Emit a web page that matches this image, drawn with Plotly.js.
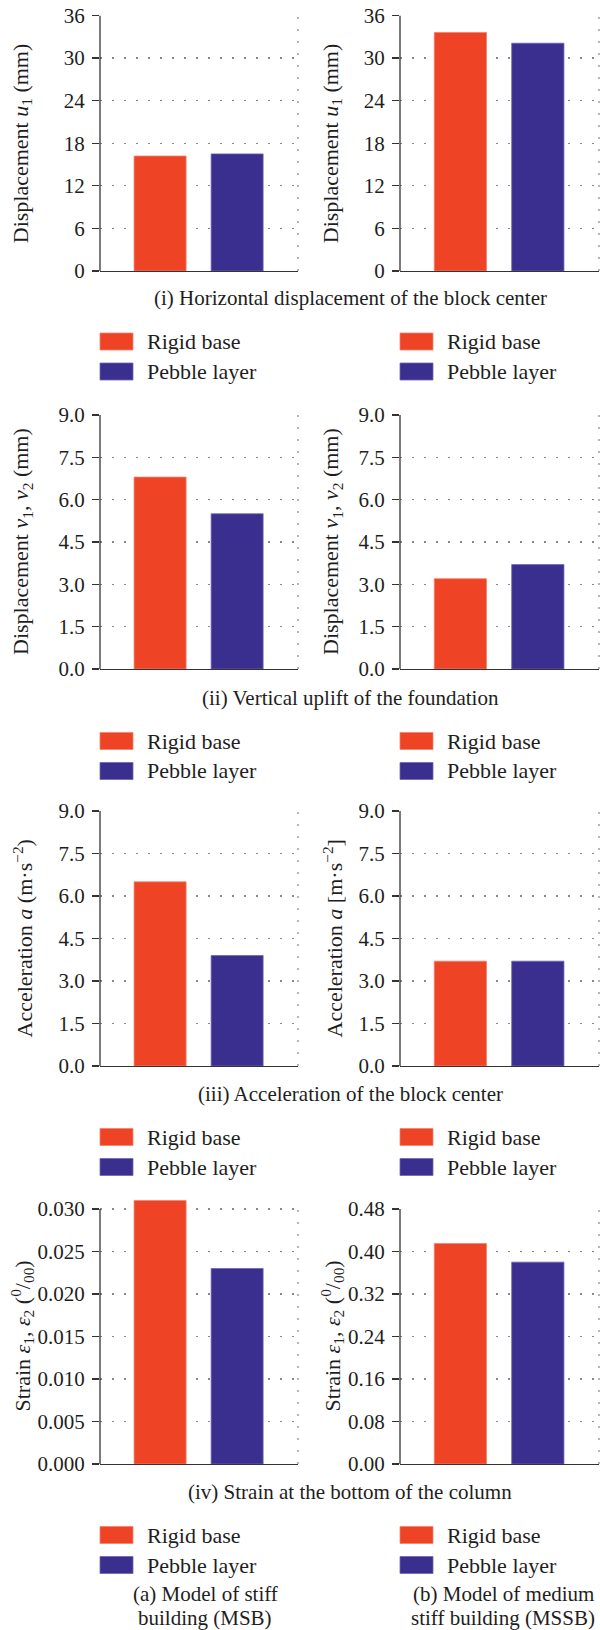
<!DOCTYPE html>
<html><head><meta charset="utf-8">
<script src="https://cdn.plot.ly/plotly-3.0.1.min.js"></script>
<style>html,body{margin:0;padding:0;background:#fff}</style>
</head><body><div id="chart" style="width:600px;height:1630px"></div>
<script>
// ---- data ----
const series = ['Rigid base', 'Pebble layer'];
const msbDisplacement = [16.2, 16.5];
const mssbDisplacement = [33.6, 32.1];
const msbUplift = [6.8, 5.5];
const mssbUplift = [3.2, 3.7];
const msbAcceleration = [6.5, 3.9];
const mssbAcceleration = [3.7, 3.7];
const msbStrain = [0.031, 0.023];
const mssbStrain = [0.415, 0.38];
const panelValues = [msbDisplacement, mssbDisplacement, msbUplift, mssbUplift,
                     msbAcceleration, mssbAcceleration, msbStrain, mssbStrain];
const rowTitles = ['(i) Horizontal displacement of the block center',
                   '(ii) Vertical uplift of the foundation',
                   '(iii) Acceleration of the block center',
                   '(iv) Strain at the bottom of the column'];
const yTitles = ['Displacement <i>u</i><sub>1</sub> (mm)', 'Displacement <i>u</i><sub>1</sub> (mm)',
                 'Displacement <i>v</i><sub>1</sub>, <i>v</i><sub>2</sub> (mm)', 'Displacement <i>v</i><sub>1</sub>, <i>v</i><sub>2</sub> (mm)',
                 'Acceleration <i>a</i> (m·s<sup>−2</sup>)', 'Acceleration <i>a</i> [m·s<sup>−2</sup>]',
                 'Strain <i>ε</i><sub>1</sub>, <i>ε</i><sub>2</sub> (<sup>0</sup>/<sub>00</sub>)', 'Strain <i>ε</i><sub>1</sub>, <i>ε</i><sub>2</sub> (<sup>0</sup>/<sub>00</sub>)'];
const yMax = [36, 36, 9, 9, 9, 9, 0.030, 0.48];
const yStep = [6, 6, 1.5, 1.5, 1.5, 1.5, 0.005, 0.08];
const yFormat = ['d', 'd', '.1f', '.1f', '.1f', '.1f', '.3f', '.2f'];
const modelCaptions = [['(a) Model of stiff', 'building (MSB)'], ['(b) Model of medium', 'stiff building (MSSB)']];

// ---- style / layout ----
const W = 600, H = 1630;
const colors = ['#EE4325', '#3A2F8E'];
const edges = ['#F4826C', '#6E66B4'];
const FONT = 'Liberation Serif, Times New Roman, serif';
const FS = 21;
const TXT = '#1e1e1e';
const AX = '#333333';
const GRID = '#888888';
const cols = [[100, 298], [400, 599]];
const rows = [[15.5, 271], [415, 669], [811, 1066], [1209, 1464]];
const yTitleX = [22, 332];
const captionX = [205, 503];
const px = v => v / W, py = v => 1 - v / H;

const data = [];
const layout = {
  width: W, height: H, margin: {l: 0, r: 0, t: 0, b: 0},
  paper_bgcolor: '#fff', plot_bgcolor: 'rgba(0,0,0,0)',
  showlegend: false, bargap: 0,
  font: {family: FONT, size: FS, color: TXT},
  shapes: [], annotations: []
};

for (let i = 0; i < 8; i++) {
  const r = Math.floor(i / 2), c = i % 2, n = i + 1;
  const xs = n === 1 ? '' : String(n);
  const vals = panelValues[i];
  // let a bar that exceeds the top tick show above it (as in the reference)
  const viewTop = Math.max(yMax[i], Math.max(...vals) * 1.002);
  const bottom = rows[r][1];
  const topPx = bottom - (rows[r][1] - rows[r][0]) * viewTop / yMax[i];
  data.push({
    type: 'bar', x: series, y: vals,
    xaxis: 'x' + xs, yaxis: 'y' + xs,
    width: 0.675,
    marker: {color: colors, line: {color: edges, width: 0.8}},
    hoverinfo: 'x+y'
  });
  layout['xaxis' + xs] = {
    domain: [px(cols[c][0]), px(cols[c][1])], anchor: 'y' + xs,
    type: 'category', range: [-0.78, 1.79],
    showticklabels: false, ticks: '', showgrid: false, zeroline: false,
    showline: true, linecolor: AX, linewidth: 1.3, fixedrange: true
  };
  layout['yaxis' + xs] = {
    domain: [py(bottom), py(topPx)], anchor: 'x' + xs,
    range: [0, viewTop], tick0: 0, dtick: yStep[i], tickformat: yFormat[i],
    ticks: 'outside', ticklen: 7, tickwidth: 1.3, tickcolor: AX,
    showline: false, zeroline: false,
    showgrid: true, gridcolor: GRID, gridwidth: 1.2, griddash: '2px,10px',
    tickfont: {family: FONT, size: FS, color: TXT}, ticklabelstandoff: 3,
    fixedrange: true
  };
  // inner half of the crossing tick marks
  layout['yaxis' + (n + 8)] = {
    overlaying: 'y' + xs, anchor: 'x' + xs, side: 'left',
    range: [0, viewTop], tick0: 0, dtick: yStep[i],
    ticks: 'inside', ticklen: 8, tickwidth: 1.3, tickcolor: AX,
    showticklabels: false, showgrid: false, showline: false, zeroline: false,
    fixedrange: true
  };
  // y axis line, from 0 to the top tick
  layout.shapes.push({
    type: 'line', xref: 'x' + xs + ' domain', yref: 'y' + xs,
    x0: 0, x1: 0, y0: 0, y1: yMax[i], layer: 'above',
    line: {color: AX, width: 1.3}
  });
  // dotted right frame
  layout.shapes.push({
    type: 'line', xref: 'x' + xs + ' domain', yref: 'y' + xs,
    x0: 1, x1: 1, y0: 0, y1: yMax[i], layer: 'below',
    line: {color: GRID, width: 1.2, dash: '2px,10px'}
  });
  // y axis title
  layout.annotations.push({
    xref: 'paper', yref: 'paper', x: px(yTitleX[c]), y: py((rows[r][0] + rows[r][1]) / 2),
    text: yTitles[i], textangle: -90, showarrow: false,
    xanchor: 'center', yanchor: 'middle', font: {family: FONT, size: 22, color: TXT}
  });
  // legend
  series.forEach((s, k) => {
    const yc = rows[r][0] + 326 + 30 * k;
    layout.shapes.push({
      type: 'rect', xref: 'paper', yref: 'paper',
      x0: px(cols[c][0]), x1: px(cols[c][0] + 33), y0: py(yc - 8.5), y1: py(yc + 8.5),
      fillcolor: colors[k], line: {color: edges[k], width: 0.8}
    });
    layout.annotations.push({
      xref: 'paper', yref: 'paper', x: px(cols[c][0] + 45), y: py(yc),
      text: s, showarrow: false, xanchor: 'left', yanchor: 'middle',
      font: {family: FONT, size: 22, color: TXT}
    });
  });
}
rowTitles.forEach((t, r) => {
  layout.annotations.push({
    xref: 'paper', yref: 'paper', x: px(350), y: py(rows[r][0] + 283),
    text: t, showarrow: false, xanchor: 'center', yanchor: 'middle',
    font: {family: FONT, size: FS, color: TXT}
  });
});
modelCaptions.forEach((lines, c) => {
  lines.forEach((t, k) => {
    layout.annotations.push({
      xref: 'paper', yref: 'paper', x: px(captionX[c]), y: py(1594 + 24 * k),
      text: t, showarrow: false, xanchor: 'center', yanchor: 'middle',
      font: {family: FONT, size: FS, color: TXT}
    });
  });
});

Plotly.newPlot('chart', data, layout, {displayModeBar: false, staticPlot: true});
</script></body></html>
